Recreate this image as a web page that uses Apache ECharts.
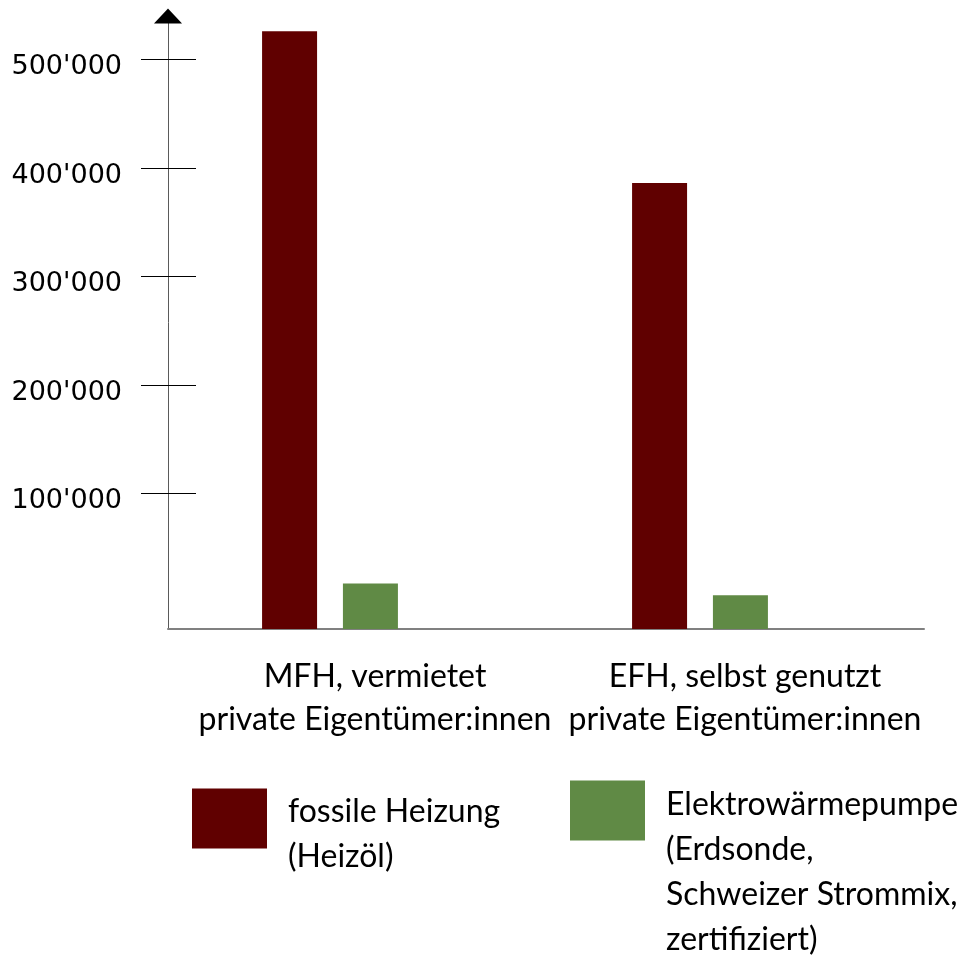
<!DOCTYPE html>
<html>
<head>
<meta charset="utf-8">
<script src="https://cdn.jsdelivr.net/npm/echarts@6/dist/echarts.min.js"></script>
<style>
  html, body { margin: 0; padding: 0; background: #fff; }
  #chart { width: 963px; height: 960px; }
</style>
</head>
<body>
<div id="chart"></div>
<script>
// Categories (two-line labels under the bars)
const categories = [
  'MFH, vermietet\nprivate Eigentümer:innen',
  'EFH, selbst genutzt\nprivate Eigentümer:innen'
];
// Series names and their multi-line legend texts
const seriesNames = ['fossile Heizung (Heizöl)', 'Elektrowärmepumpe (Erdsonde, Schweizer Strommix, zertifiziert)'];
const legendLabels = ['fossile Heizung\n(Heizöl)', 'Elektrowärmepumpe\n(Erdsonde,\nSchweizer Strommix,\nzertifiziert)'];
// Values per category
const fossilValues = [526000, 386000];
const heatPumpValues = [17000, 6000];
// Value-axis tick positions and extent
const tickValues = [100000, 200000, 300000, 400000, 500000];
const axisMin = -25000;
const axisMax = 540000;

const fmt = v => String(v).replace(/\B(?=(\d{3})+(?!\d))/g, "'");
const textFont = 'Lato';

// Legend text: first line sits in a taller line box so the text block
// starts level with the top of the colour square.
const legendRich = (label) => {
  const lines = label.split('\n');
  return lines.map((l, i) => (i === 0 ? '{first|' + l + '}' : '{rest|' + l + '}')).join('\n');
};
const legendText = (firstLineBox) => ({
  fontFamily: textFont, fontSize: 32, lineHeight: 45, color: '#000', padding: [0, 0, 0, 16],
  rich: {
    first: { fontFamily: textFont, fontSize: 32, lineHeight: firstLineBox, height: 45, verticalAlign: 'bottom', color: '#000' },
    rest: { fontFamily: textFont, fontSize: 32, lineHeight: 45, color: '#000' }
  }
});

const chart = echarts.init(document.getElementById('chart'), null, { renderer: 'canvas' });

chart.setOption({
  animation: false,
  backgroundColor: '#fff',
  grid: [
    // bars
    { left: 145, width: 740, top: 16, bottom: 331 },
    // axis frame
    { left: 168, right: 39, top: 16, bottom: 331 }
  ],
  xAxis: [
    {
      type: 'category', gridIndex: 0, data: categories,
      axisLine: { show: false }, axisTick: { show: false },
      axisLabel: {
        interval: 0, margin: 26, color: '#000',
        fontFamily: textFont, fontSize: 32, lineHeight: 43,
        padding: [0, 0, 0, 90]
      }
    },
    {
      type: 'value', gridIndex: 1, min: 0, max: 1,
      axisLine: { show: true, onZero: false, lineStyle: { color: '#808080', width: 2 } },
      axisTick: { show: false }, axisLabel: { show: false }, splitLine: { show: false }
    }
  ],
  yAxis: [
    {
      type: 'value', gridIndex: 0, min: axisMin, max: axisMax, startValue: axisMin,
      show: false, splitLine: { show: false }
    },
    {
      type: 'value', gridIndex: 1, min: axisMin, max: axisMax,
      axisLine: { show: true, lineStyle: { color: '#5a5a5a', width: 1 } },
      axisTick: { show: true, customValues: tickValues, length: 27, lineStyle: { color: '#000', width: 1 } },
      axisLabel: {
        customValues: tickValues, formatter: fmt, margin: 46, color: '#000',
        fontFamily: 'DejaVu Sans', fontSize: 27, verticalAlign: 'top', lineHeight: 16
      },
      splitLine: { show: false }
    },
    {
      type: 'value', gridIndex: 1, min: axisMin, max: axisMax, position: 'left',
      axisLine: {
        show: true, symbol: ['none', 'triangle'], symbolSize: [28, 15],
        lineStyle: { color: '#000', width: 0 }
      },
      axisTick: { show: true, inside: true, customValues: tickValues, length: 28, lineStyle: { color: '#000', width: 1 } },
      axisLabel: { show: false },
      splitLine: { show: false }
    }
  ],
  legend: [
    {
      data: [seriesNames[0]], left: 192, top: 758, padding: 0,
      icon: 'rect', itemWidth: 75, itemHeight: 60,
      formatter: () => legendRich(legendLabels[0]),
      textStyle: legendText(76)
    },
    {
      data: [seriesNames[1]], left: 570, top: 659, padding: 0,
      icon: 'rect', itemWidth: 75, itemHeight: 60,
      formatter: () => legendRich(legendLabels[1]),
      textStyle: legendText(168)
    }
  ],
  series: [
    {
      name: seriesNames[0], type: 'bar', xAxisIndex: 0, yAxisIndex: 0,
      data: fossilValues, barWidth: 55, barGap: '47%',
      itemStyle: { color: '#600000' }
    },
    {
      name: seriesNames[1], type: 'bar', xAxisIndex: 0, yAxisIndex: 0,
      data: heatPumpValues, barWidth: 55, barGap: '47%',
      itemStyle: { color: '#608a45' }
    }
  ]
});
</script>
</body>
</html>
